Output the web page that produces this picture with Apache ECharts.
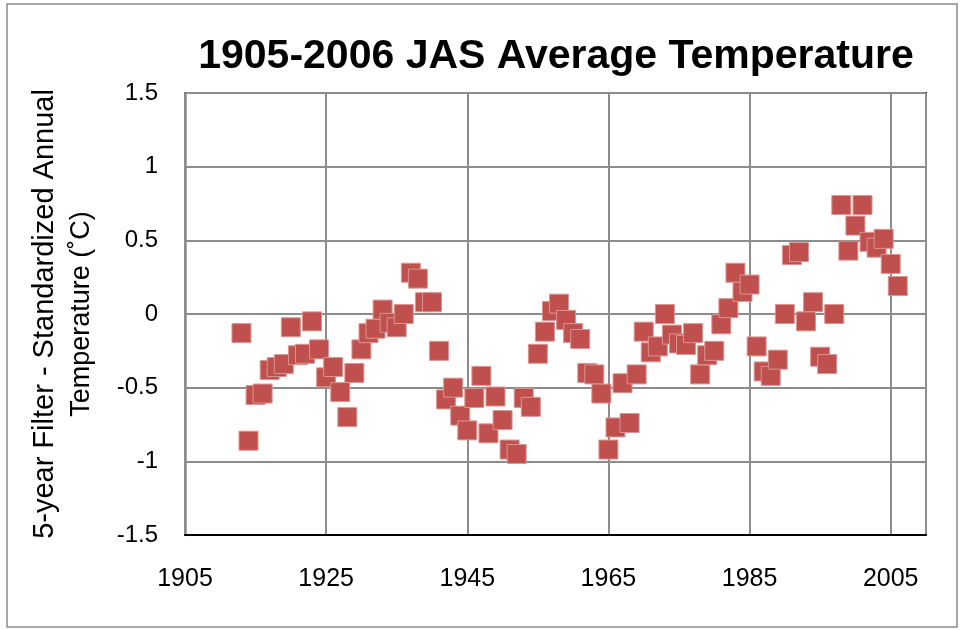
<!DOCTYPE html>
<html>
<head>
<meta charset="utf-8">
<title>1905-2006 JAS Average Temperature</title>
<script src="https://cdn.jsdelivr.net/npm/echarts@6/dist/echarts.min.js"></script>
<style>
  html, body { margin: 0; padding: 0; background: #fff; }
  #chart { width: 960px; height: 630px; }
</style>
</head>
<body>
<div id="chart"></div>
<script>
// years (one point per year)
const years = [
  1913, 1914, 1915, 1916, 1917, 1918, 1919, 1920, 1921, 1922,
  1923, 1924, 1925, 1926, 1927, 1928, 1929, 1930, 1931, 1932,
  1933, 1934, 1935, 1936, 1937, 1938, 1939, 1940, 1941, 1942,
  1943, 1944, 1945, 1946, 1947, 1948, 1949, 1950, 1951, 1952,
  1953, 1954, 1955, 1956, 1957, 1958, 1959, 1960, 1961, 1962,
  1963, 1964, 1965, 1966, 1967, 1968, 1969, 1970, 1971, 1972,
  1973, 1974, 1975, 1976, 1977, 1978, 1979, 1980, 1981, 1982,
  1983, 1984, 1985, 1986, 1987, 1988, 1989, 1990, 1991, 1992,
  1993, 1994, 1995, 1996, 1997, 1998, 1999, 2000, 2001, 2002,
  2003, 2004, 2005, 2006
]
// 5-year filter, standardized annual temperature
const temps = [
  -0.13, -0.86, -0.55, -0.54, -0.38, -0.36, -0.34, -0.09, -0.28, -0.27,
  -0.05, -0.24, -0.43, -0.36, -0.53, -0.70, -0.40, -0.24, -0.13, -0.10,
  0.03, -0.06, -0.09, 0.00, 0.28, 0.24, 0.08, 0.08, -0.25, -0.58,
  -0.50, -0.69, -0.79, -0.57, -0.42, -0.81, -0.56, -0.72, -0.92, -0.95,
  -0.57, -0.63, -0.27, -0.12, 0.02, 0.07, -0.04, -0.13, -0.17, -0.40,
  -0.41, -0.54, -0.92, -0.77, -0.47, -0.74, -0.41, -0.12, -0.26, -0.22,
  0.00, -0.14, -0.20, -0.21, -0.13, -0.41, -0.28, -0.25, -0.07, 0.04,
  0.28, 0.15, 0.20, -0.22, -0.39, -0.42, -0.31, 0.00, 0.40, 0.42,
  -0.05, 0.08, -0.29, -0.34, 0.00, 0.74, 0.43, 0.60, 0.74, 0.49,
  0.45, 0.51, 0.34, 0.19
]
const xTicks = { min: 1905, max: 2010, step: 20 }
const yTicks = { min: -1.5, max: 1.5, step: 0.5 }

const chart = echarts.init(document.getElementById('chart'))

const option = {
  animation: false,
  backgroundColor: '#fff',
  textStyle: { fontFamily: 'Liberation Sans' },
  graphic: [
    {
      // outer chart frame
      type: 'rect',
      shape: { x: 7, y: 4, width: 950, height: 623 },
      style: { fill: 'none', stroke: '#8c8c8c', lineWidth: 1.5 },
      silent: true
    },
    {
      type: 'text',
      x: 556,
      y: 57,
      style: {
        text: '1905-2006 JAS Average Temperature',
        font: 'bold 41px "Liberation Sans"',
        fill: '#000',
        textAlign: 'center',
        textVerticalAlign: 'middle'
      }
    }
  ],
  grid: {
    left: 185,
    right: 34,
    top: 93,
    bottom: 95,
    show: true,
    borderColor: '#000',
    borderWidth: 2
  },
  xAxis: {
    type: 'value',
    min: xTicks.min,
    max: xTicks.max,
    interval: xTicks.step,
    axisLine: { show: true, onZero: false, lineStyle: { color: '#000', width: 2 } },
    axisTick: { show: false },
    axisLabel: {
      showMaxLabel: false,
      margin: 32,
      fontSize: 25,
      color: '#000',
      formatter: v => String(v)
    },
    splitLine: { show: true, lineStyle: { color: '#8c8c8c', width: 2 } }
  },
  yAxis: {
    type: 'value',
    min: yTicks.min,
    max: yTicks.max,
    interval: yTicks.step,
    name: '{a|5-year Filter - Standardized Annual}\n{b|Temperature (˚C)}',
    nameLocation: 'middle',
    nameRotate: 90,
    nameGap: 85,
    nameTextStyle: {
      color: '#000',
      lineHeight: 37,
      rich: {
        a: { fontSize: 29, lineHeight: 37, color: '#000' },
        b: { fontSize: 27, lineHeight: 37, color: '#000' }
      }
    },
    axisLine: { show: true, lineStyle: { color: '#8c8c8c', width: 2.5 } },
    axisTick: { show: false },
    axisLabel: {
      margin: 27,
      fontSize: 24,
      color: '#000',
      formatter: v => String(v)
    },
    splitLine: { show: true, lineStyle: { color: '#8c8c8c', width: 2 } }
  },
  series: [
    {
      name: 'JAS',
      type: 'scatter',
      symbol: 'rect',
      symbolSize: 19,
      data: years.map((y, i) => [y, temps[i]]),
      itemStyle: {
        color: '#C0504D',
        opacity: 1,
        borderColor: '#d99694',
        borderWidth: 1
      }
    }
  ]
}

chart.setOption(option)
</script>
</body>
</html>
